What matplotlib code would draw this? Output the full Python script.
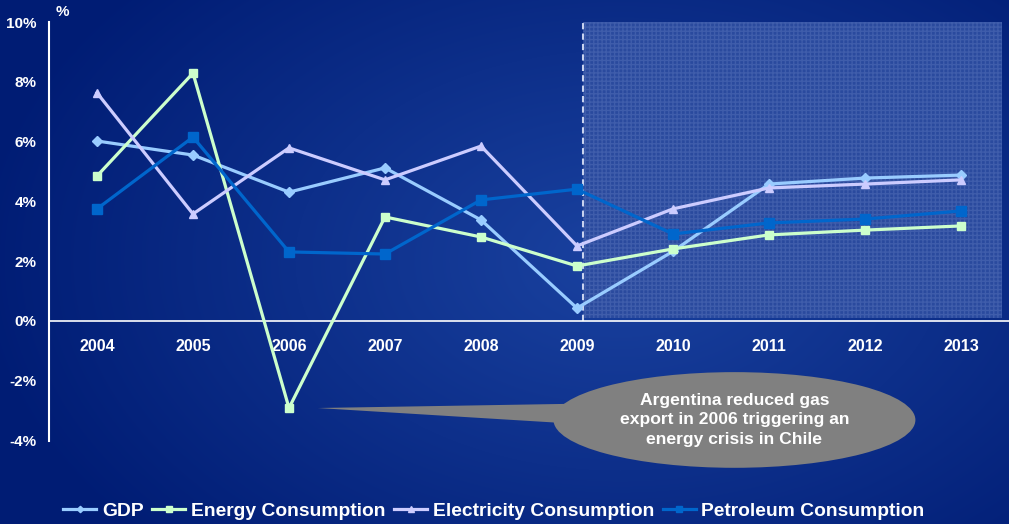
import numpy as np
import matplotlib.pyplot as plt
from matplotlib.patches import Ellipse, Polygon, Rectangle

plt.rcParams['font.family'] = ['Liberation Sans', 'DejaVu Sans']
plt.rcParams['font.weight'] = 'bold'

# data (annual growth, %)
years = ['2004', '2005', '2006', '2007', '2008', '2009', '2010', '2011', '2012', '2013']
gdp = [6.02, 5.55, 4.31, 5.12, 3.38, 0.43, 2.33, 4.58, 4.78, 4.88]
energy = [4.85, 8.29, -2.91, 3.48, 2.81, 1.84, 2.41, 2.88, 3.04, 3.18]
electricity = [7.63, 3.58, 5.79, 4.72, 5.85, 2.51, 3.75, 4.45, 4.58, 4.72]
petroleum = [3.75, 6.15, 2.31, 2.24, 4.05, 4.41, 2.91, 3.28, 3.41, 3.68]
yticks = [-4, -2, 0, 2, 4, 6, 8, 10]
forecast_start = 5.06  # just right of 2009
note = 'Argentina reduced gas\nexport in 2006 triggering an\nenergy crisis in Chile'

W, H = 1009, 524
fig = plt.figure(figsize=(W / 100, H / 100), dpi=100)

# background gradient
bg = fig.add_axes([0, 0, 1, 1])
bg.set_axis_off()
yy, xx = np.mgrid[0:H, 0:W]
d = np.sqrt(((xx - 620) / 650.0) ** 2 + ((yy - 260) / 420.0) ** 2)
d = np.clip(d, 0, 1)
c_in = np.array([0x1a, 0x42, 0xa0]) / 255
c_out = np.array([0x00, 0x1c, 0x74]) / 255
img = c_in[None, None, :] * (1 - d[..., None]) + c_out[None, None, :] * d[..., None]
bg.imshow(img, aspect='auto', extent=[0, 1, 0, 1])
bg.set_xlim(0, 1)
bg.set_ylim(0, 1)

ax = fig.add_axes([49 / W, (H - 440.6) / H, 960 / W, (440.6 - 22) / H])
ax.patch.set_alpha(0)
x = np.arange(len(years))

# forecast area
ax.add_patch(Rectangle((forecast_start, 0.1), 9.43 - forecast_start, 9.9,
                       facecolor='#2a4a9e', edgecolor='#3f5dab', hatch='++++',
                       linewidth=0, zorder=1))
ax.plot([forecast_start, forecast_start], [0, 10], color='#c8d2ee',
        lw=1.5, ls=(0, (3, 2)), zorder=2)

ax.plot(x, gdp, color='#99ccff', lw=2.3, marker='D', ms=5, label='GDP', zorder=4)
ax.plot(x, energy, color='#ccffcc', lw=2.3, marker='s', ms=6, label='Energy Consumption', zorder=4)
ax.plot(x, electricity, color='#ccccff', lw=2.3, marker='^', ms=6, label='Electricity Consumption', zorder=4)
ax.plot(x, petroleum, color='#0066cc', lw=2.3, marker='s', ms=7, label='Petroleum Consumption', zorder=4)

ax.set_xlim(-0.5, 9.5)
ax.set_ylim(-4, 10)
ax.set_yticks(yticks)
ax.set_yticklabels(['%d%%' % v for v in yticks])
ax.set_xticks(x)
ax.set_xticklabels(years)
for s in ['top', 'right']:
    ax.spines[s].set_visible(False)
ax.spines['bottom'].set_position(('data', 0))
ax.spines['bottom'].set_color('white')
ax.spines['bottom'].set_linewidth(1.2)
ax.spines['left'].set_color('white')
ax.spines['left'].set_linewidth(1.5)
ax.tick_params(axis='x', length=0, pad=13, colors='white', labelsize=11.5)
ax.tick_params(axis='y', length=0, pad=9, colors='white', labelsize=11)
for t in ax.get_xticklabels() + ax.get_yticklabels():
    t.set_fontweight('bold')
ax.text(62 / W, (H - 12) / H, '%', transform=fig.transFigure, color='white',
        fontsize=11, fontweight='bold', ha='center', va='center')

# callout
ax.add_patch(Polygon([(2.3, energy[2]), (5.3, -2.75), (5.3, -3.5)], closed=True,
                     facecolor='#808080', edgecolor='none', clip_on=False, zorder=5))
ax.add_patch(Ellipse((6.64, -3.31), 3.77, 3.2, facecolor='#808080',
                     edgecolor='none', clip_on=False, zorder=5))
ax.text(6.64, -3.31, note, ha='center', va='center', color='white',
        fontsize=12.6, fontweight='bold', linespacing=1.38, zorder=6)

leg = fig.legend(loc='center', bbox_to_anchor=(494 / W, (H - 511) / H), ncol=4,
                 frameon=False, handlelength=1.7, handletextpad=0.3, markerscale=0.65,
                 columnspacing=0.45, prop={'weight': 'bold', 'size': 13.9})
for t in leg.get_texts():
    t.set_color('white')

fig.savefig('out.png', dpi=100)
